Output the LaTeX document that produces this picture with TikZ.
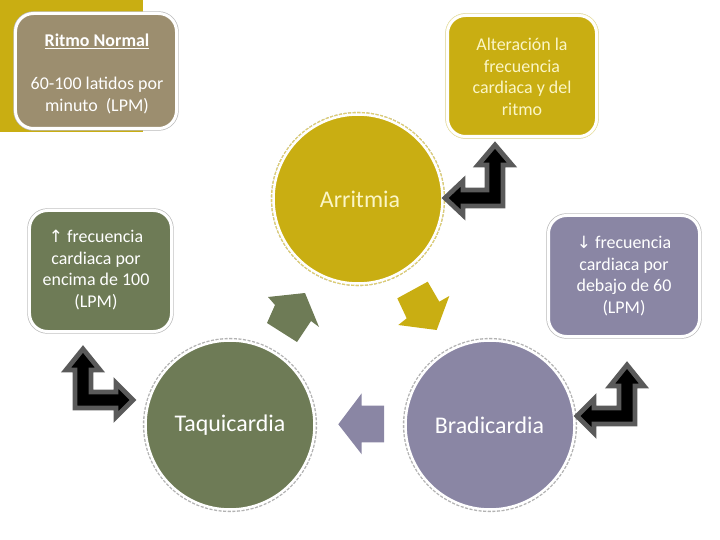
\documentclass[tikz,border=0pt]{standalone}
\usepackage{fontspec}
\setmainfont{Carlito}
\newfontfamily\symf{DejaVu Sans}
\definecolor{cgold}{HTML}{C9AE12}
\definecolor{ctan}{HTML}{9C8E6F}
\definecolor{cgreen}{HTML}{6E7B56}
\definecolor{cpurple}{HTML}{8A86A4}
\definecolor{cpale}{HTML}{FBF6C6}
\definecolor{carrowgray}{HTML}{5A5A5A}
\begin{document}
\begin{tikzpicture}[x=1bp,y=-1bp,
  boxsty/.style={rectangle, rounded corners=18bp, fill=#1, draw=white, line width=3bp,
     preaction={draw=gray!55, line width=4.4bp}, inner sep=0pt},
  circsty/.style={circle, fill=#1, draw=white, line width=2.5bp, minimum size=169bp, inner sep=0pt,
     preaction={draw=gray!60, line width=5.2bp, dash pattern=on 3bp off 1.5bp}},
  boxtext/.style={align=center, font=\fontsize{18}{21.7}\selectfont, text=white},
  circtext/.style={font=\fontsize{24}{28}\selectfont, text=white},
  bent/.style={fill=black, draw=carrowgray, line width=4.8bp, line join=miter},
  blockarrow/.style={fill=#1, draw=none}
]
\useasboundingbox (0,0) rectangle (720,540);
% gold background square
\fill[cgold] (0,0) rectangle (143,132);

% boxes
\node[boxsty=ctan, minimum width=161bp, minimum height=115bp] (normal) at (96,71) {};
\node[boxsty=cgold, minimum width=149bp, minimum height=121bp,
      preaction={draw=cpale!80!cgold, line width=4.4bp}] (alter) at (522,76) {};
\node[boxsty=cgreen, minimum width=142bp, minimum height=121bp] (taqbox) at (100.5,271) {};
\node[boxsty=cpurple, minimum width=151bp, minimum height=121bp] (brabox) at (624,276) {};

\node[boxtext] (normaltxt) at (97,74) {\underline{\textbf{Ritmo Normal}}\\[21.7bp]60-100 latidos por\\minuto\ \ (LPM)};
\node[boxtext, text=cpale] (altertxt) at (522,77) {Alteración la\\frecuencia\\cardiaca y del\\ritmo};
\node[boxtext] (taqtxt) at (96,270) {{\symf\fontsize{17}{18}\selectfont ↑} frecuencia\\cardiaca por\\encima de 100\\(LPM)};
\node[boxtext] (bratxt) at (624,276) {{\symf\fontsize{17}{18}\selectfont ↓} frecuencia\\cardiaca por\\debajo de 60\\(LPM)};

% circles
\node[circsty=cgold, preaction={draw=cgold!60!white, line width=5.2bp, dash pattern=on 3bp off 1.5bp}] (arr) at (358,199) {};
\node[circtext, text=cpale] (arrtxt) at (360,199) {Arritmia};
\node[circsty=cgreen] (taq) at (230,425) {};
\node[circtext] (taqtxt2) at (230,425) {Taquicardia};
\node[circsty=cpurple] (bra) at (490,425) {};
\node[circtext] (bratxt2) at (489.5,425) {Bradicardia};

% block arrows between circles
\path[blockarrow=cgreen] (305,293) -- (319,327) -- (311,321) -- (297,342) -- (267,323) -- (275,305) -- (268,297) -- cycle;
\path[blockarrow=cgold] (397.3,298.3) -- (427.7,281.7) -- (439.3,301.7) -- (449.3,296) -- (436.7,330) -- (398.3,325) -- (406.7,318.3) -- cycle;
\path[blockarrow=cpurple] (338.3,424.3) -- (361.7,393.3) -- (361.7,405.7) -- (384,405.7) -- (384,442.3) -- (361.7,442.3) -- (361.7,454.3) -- cycle;

% bent double arrows
\draw[bent] (495,145) -- (512,165) -- (503,165) -- (503,206) -- (463,206) -- (463,215) -- (445,198) -- (463,181) -- (463,190) -- (487,190) -- (487,165) -- (478,165) -- cycle;
\draw[bent] (83,349) -- (100,370) -- (91,370) -- (91,392) -- (116,392) -- (116,383) -- (133,400) -- (116,417) -- (116,408) -- (75,408) -- (75,370) -- (66,370) -- cycle;
\draw[bent] (627,365) -- (644,386) -- (635,386) -- (635,424) -- (594,424) -- (594,433) -- (577,416) -- (594,399) -- (594,408) -- (619,408) -- (619,386) -- (610,386) -- cycle;
\end{tikzpicture}
\end{document}
